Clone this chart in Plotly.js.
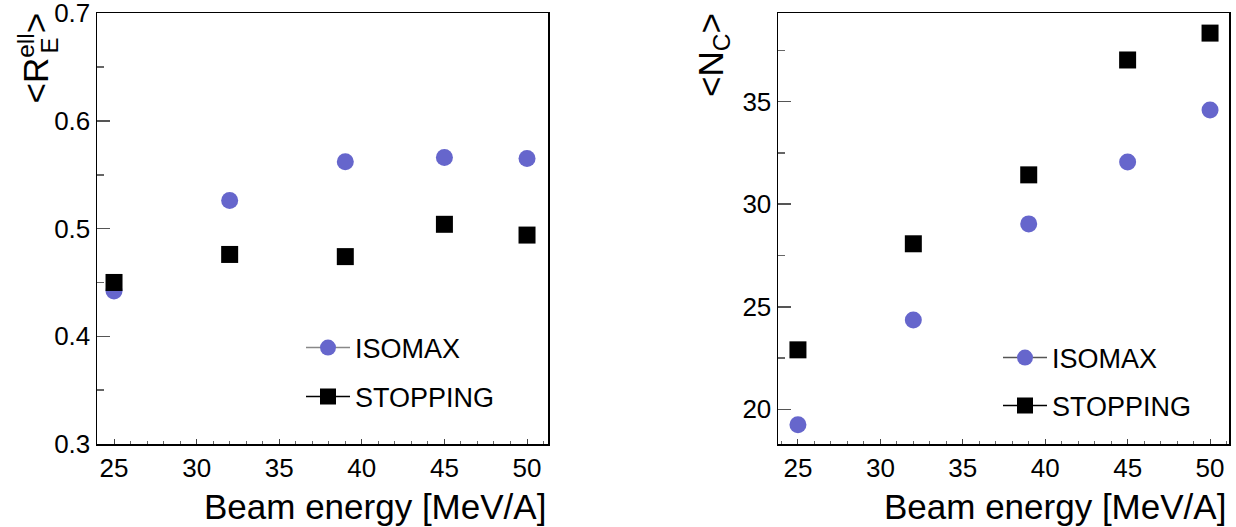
<!DOCTYPE html>
<html>
<head>
<meta charset="utf-8">
<script src="https://cdn.plot.ly/plotly-3.0.1.min.js"></script>
<style>
  html, body { margin: 0; padding: 0; background: #fff; }
  #chart { width: 1236px; height: 527px; }
</style>
</head>
<body>
<div id="chart"></div>
<script>
// ---- data ----
var energies = [25, 32, 39, 45, 50];
var isomaxRE = [0.442, 0.526, 0.562, 0.566, 0.565];
var stoppingRE = [0.450, 0.476, 0.474, 0.504, 0.494];
var isomaxNC = [19.25, 24.36, 29.04, 32.06, 34.59];
var stoppingNC = [22.90, 28.07, 31.43, 37.03, 38.34];
var seriesNames = ['ISOMAX', 'STOPPING'];
var xTitle = 'Beam energy [MeV/A]';

var W = 1236, H = 527;
function px(x) { return x / W; }
function py(y) { return 1 - y / H; }

var FONT = 'Liberation Sans, Arial, Helvetica, sans-serif';
var BLUE = '#6666cc';
var MS = 17;

var traces = [
  { x: energies, y: isomaxRE, xaxis: 'x', yaxis: 'y', mode: 'markers', type: 'scatter',
    marker: { symbol: 'circle', size: MS, color: BLUE }, showlegend: false, hoverinfo: 'skip' },
  { x: energies, y: stoppingRE, xaxis: 'x', yaxis: 'y', mode: 'markers', type: 'scatter',
    marker: { symbol: 'square', size: MS, color: '#000' }, showlegend: false, hoverinfo: 'skip' },
  { x: energies, y: isomaxNC, xaxis: 'x2', yaxis: 'y2', mode: 'markers', type: 'scatter',
    marker: { symbol: 'circle', size: MS, color: BLUE }, showlegend: false, hoverinfo: 'skip' },
  { x: energies, y: stoppingNC, xaxis: 'x2', yaxis: 'y2', mode: 'markers', type: 'scatter',
    marker: { symbol: 'square', size: MS, color: '#000' }, showlegend: false, hoverinfo: 'skip' },
  // legend entries
  { x: [null], y: [null], xaxis: 'x', yaxis: 'y', mode: 'lines+markers', name: seriesNames[0], legend: 'legend',
    marker: { symbol: 'circle', size: MS, color: BLUE }, line: { color: '#888', width: 1.5 } },
  { x: [null], y: [null], xaxis: 'x', yaxis: 'y', mode: 'lines+markers', name: seriesNames[1], legend: 'legend2',
    marker: { symbol: 'square', size: MS, color: '#000' }, line: { color: '#000', width: 1.5 } },
  { x: [null], y: [null], xaxis: 'x2', yaxis: 'y2', mode: 'lines+markers', name: seriesNames[0], legend: 'legend3',
    marker: { symbol: 'circle', size: MS, color: BLUE }, line: { color: '#555', width: 1.5 } },
  { x: [null], y: [null], xaxis: 'x2', yaxis: 'y2', mode: 'lines+markers', name: seriesNames[1], legend: 'legend4',
    marker: { symbol: 'square', size: MS, color: '#000' }, line: { color: '#000', width: 1.5 } }
];

function xAxis(domain, range, anchor) {
  return {
    domain: domain, range: range, anchor: anchor,
    tick0: 25, dtick: 5, ticks: 'inside', ticklen: 5, tickwidth: 1, tickcolor: '#444',
    minor: { dtick: 1, ticklen: 3, tickwidth: 1, tickcolor: '#666', ticks: 'inside' },
    showline: true, mirror: true, linecolor: '#000', linewidth: 1.5,
    showgrid: false, zeroline: false, ticklabeloverflow: 'allow',
    tickfont: { family: FONT, size: 26, color: '#000' }
  };
}
function yAxis(domain, range, dtick, minorDtick, anchor) {
  return {
    domain: domain, range: range, anchor: anchor,
    dtick: dtick, ticks: 'inside', ticklen: 13, tickwidth: 1.5, tickcolor: '#555',
    minor: { dtick: minorDtick, ticklen: 7, tickwidth: 1.5, tickcolor: '#666', ticks: 'inside' },
    showline: true, mirror: true, linecolor: '#000', linewidth: 1.5,
    showgrid: false, zeroline: false, ticklabeloverflow: 'allow',
    tickfont: { family: FONT, size: 26, color: '#000' }
  };
}

function leg(x, y) {
  return {
    x: px(x), y: py(y), xanchor: 'left', yanchor: 'middle',
    bgcolor: 'rgba(0,0,0,0)', borderwidth: 0, itemwidth: 44, itemsizing: 'trace',
    font: { family: FONT, size: 27, color: '#000' }
  };
}

var yDomain = [py(444), py(13)];

var layout = {
  width: W, height: H,
  margin: { l: 0, r: 0, t: 0, b: 0 },
  paper_bgcolor: '#fff', plot_bgcolor: '#fff',
  font: { family: FONT, color: '#000' },
  xaxis: xAxis([px(97), px(548)], [23.97, 51.27], 'y'),
  yaxis: yAxis(yDomain, [0.3, 0.7002], 0.1, 0.05, 'x'),
  xaxis2: xAxis([px(778), px(1229)], [23.79, 51.15], 'y2'),
  yaxis2: yAxis(yDomain, [18.31, 39.32], 5, 2.5, 'x2'),
  legend: leg(301, 348),
  legend2: leg(301, 397),
  legend3: leg(998, 358),
  legend4: leg(998, 406),
  annotations: [
    { text: xTitle, xref: 'paper', yref: 'paper', x: px(548), y: py(506), xanchor: 'right', yanchor: 'middle',
      showarrow: false, font: { family: FONT, size: 35, color: '#000' } },
    { text: xTitle, xref: 'paper', yref: 'paper', x: px(1228), y: py(506), xanchor: 'right', yanchor: 'middle',
      showarrow: false, font: { family: FONT, size: 35, color: '#000' } },
    { text: '&lt;R<sup>ell</sup>&gt;', xref: 'paper', yref: 'paper', x: px(33), y: py(11), xanchor: 'center', yanchor: 'top',
      textangle: -90, showarrow: false, font: { family: FONT, size: 35, color: '#000' } },
    { text: 'E', xref: 'paper', yref: 'paper', x: px(48.5), y: py(46), xanchor: 'center', yanchor: 'middle',
      textangle: -90, showarrow: false, font: { family: FONT, size: 24, color: '#000' } },
    { text: '&lt;N<sub>C</sub>&gt;', xref: 'paper', yref: 'paper', x: px(713), y: py(11), xanchor: 'center', yanchor: 'top',
      textangle: -90, showarrow: false, font: { family: FONT, size: 35, color: '#000' } }
  ]
};

Plotly.newPlot('chart', traces, layout, { staticPlot: true, displayModeBar: false });
</script>
</body>
</html>
